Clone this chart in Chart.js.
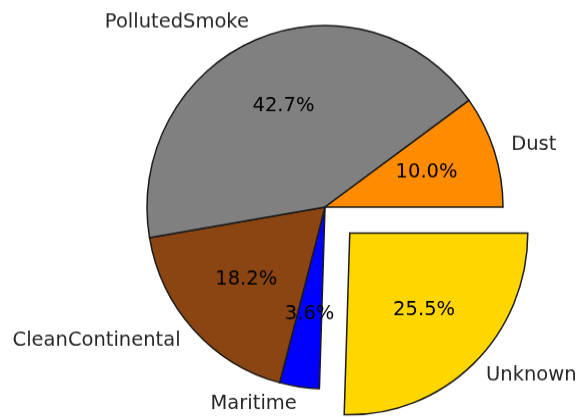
<!DOCTYPE html>
<html>
<head>
<meta charset="utf-8">
<script src="https://cdn.jsdelivr.net/npm/chart.js@4.4.0/dist/chart.umd.min.js"></script>
<style>
  html, body { margin: 0; padding: 0; background: #fff; width: 581px; height: 417px; overflow: hidden; }
  #page { position: relative; width: 581px; height: 417px; }
  /* a figura original é levemente esticada na vertical */
  #wrap { position: absolute; left: 0; top: 0; width: 581px; height: 409px; transform: scaleY(1.02); transform-origin: 0 0; }
</style>
</head>
<body>
<div id="page"><div id="wrap"><canvas id="pieChart" width="581" height="409"></canvas></div></div>
<script>
// dados (ordem do matplotlib, sentido anti-horário a partir das 3h)
const categories = ['Dust', 'PollutedSmoke', 'CleanContinental', 'Maritime', 'Unknown'];
const percents = [10.0, 42.7, 18.2, 3.6, 25.5];
const sliceColors = ['#FF8C00', '#808080', '#8B4513', '#0000FF', '#FFD700'];
const explode = [0, 0, 0, 0, 0.2]; // fração do raio

const RADIUS = 178;
const FONT = '19.5px "DejaVu Sans"';

// Chart.js desenha no sentido horário, então invertemos a ordem
const labelsCW = categories.slice().reverse();
const valuesCW = percents.slice().reverse();
const colorsCW = sliceColors.slice().reverse();
const explodeCW = explode.slice().reverse();

// Plugin para escrever rótulos e porcentagens como no matplotlib
const pieText = {
  id: 'pieText',
  afterDatasetsDraw(chart) {
    const ctx = chart.ctx;
    const meta = chart.getDatasetMeta(0);
    ctx.save();
    ctx.font = FONT;
    ctx.textBaseline = 'middle';
    meta.data.forEach((arc, i) => {
      const p = arc.getProps(['x', 'y', 'startAngle', 'endAngle', 'outerRadius'], true);
      const mid = (p.startAngle + p.endAngle) / 2;
      const shift = explodeCW[i] * p.outerRadius;
      const cx = p.x + Math.cos(mid) * shift;
      const cy = p.y + Math.sin(mid) * shift;
      // rótulo externo a 1.1r
      const lx = cx + Math.cos(mid) * p.outerRadius * 1.1;
      const ly = cy + Math.sin(mid) * p.outerRadius * 1.1;
      ctx.fillStyle = '#262626';
      ctx.textAlign = Math.cos(mid) >= 0 ? 'left' : 'right';
      ctx.fillText(labelsCW[i], lx, ly - 1);
      // porcentagem a 0.6r
      const px = cx + Math.cos(mid) * p.outerRadius * 0.6;
      const py = cy + Math.sin(mid) * p.outerRadius * 0.6;
      ctx.fillStyle = '#000';
      ctx.textAlign = 'center';
      ctx.fillText(valuesCW[i].toFixed(1) + '%', px, py - 1);
    });
    ctx.restore();
  }
};

let ctx = document.getElementById('pieChart').getContext('2d');

let pieChart = new Chart(ctx, {
  type: 'pie',
  data: {
    labels: labelsCW,
    datasets: [{
      data: valuesCW,
      backgroundColor: colorsCW,
      borderColor: '#1a1a1a',
      borderWidth: 1.5,
      borderJoinStyle: 'miter',
      offset: explodeCW.map(e => e * RADIUS * 4),
      hoverOffset: 0
    }]
  },
  options: {
    responsive: false,
    animation: false,
    rotation: 90,
    radius: RADIUS,
    layout: {
      padding: { left: 69, right: 0, top: 0, bottom: 3 }
    },
    plugins: {
      legend: { display: false },
      tooltip: { enabled: false }
    },
    events: []
  },
  plugins: [pieText]
});
</script>
</body>
</html>
